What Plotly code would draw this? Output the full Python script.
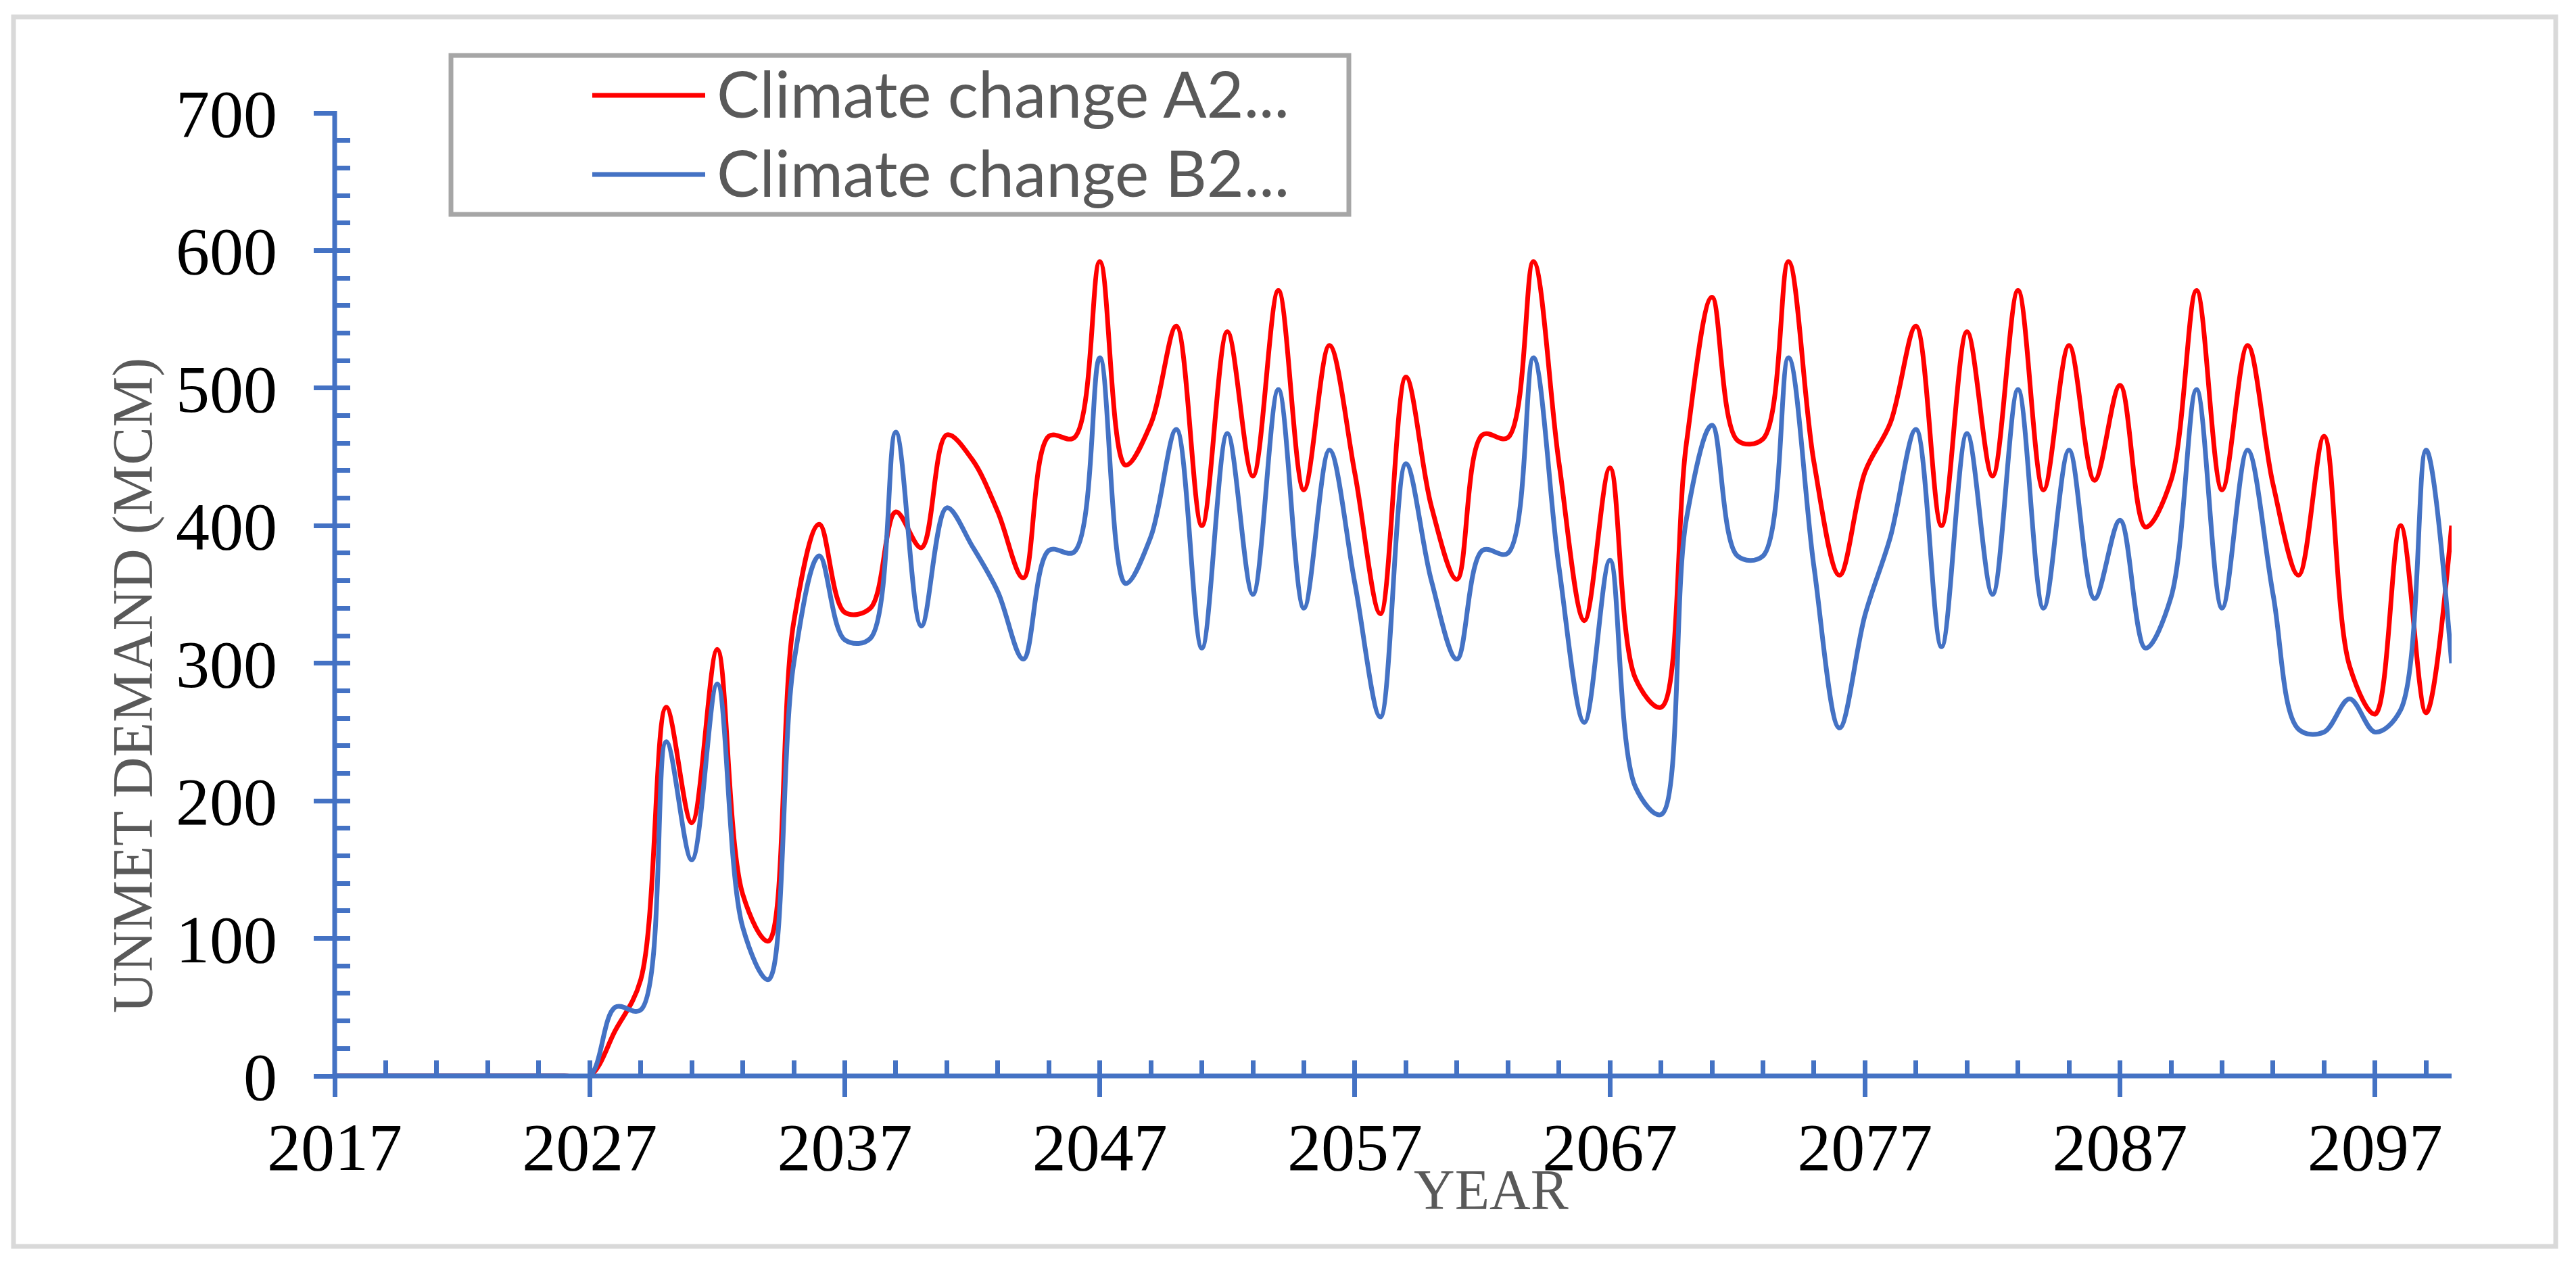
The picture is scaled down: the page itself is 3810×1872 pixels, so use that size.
import plotly.graph_objects as go

# ---------------- data ----------------
years = list(range(2017, 2101))

a2_name = "Climate change A2..."
b2_name = "Climate change B2..."

a2_unmet = [
    0, 0, 0, 0, 0, 0, 0, 0, 0, 0,                      # 2017-2026
    0, 33, 70, 268, 184, 310, 132, 98, 330, 401,        # 2027-2036
    337, 340, 410, 384, 466, 448, 410, 362, 465, 464,   # 2037-2046
    592, 444, 474, 545, 400, 541, 436, 571, 426, 531,   # 2047-2056
    438, 336, 508, 414, 361, 466, 464, 592, 446, 331,   # 2057-2066
    442, 289, 268, 460, 566, 462, 463, 592, 446, 364,   # 2067-2076
    439, 475, 545, 400, 541, 436, 571, 426, 531, 433,   # 2077-2086
    502, 399, 433, 571, 426, 531, 430, 364, 465, 298,   # 2087-2096
    263, 400, 264, 400,                                 # 2097-2100
]

b2_unmet = [
    0, 0, 0, 0, 0, 0, 0, 0, 0, 0,                      # 2017-2026
    0, 50, 48, 243, 157, 285, 108, 70, 300, 378,        # 2027-2036
    317, 318, 468, 327, 413, 385, 352, 303, 382, 381,   # 2037-2046
    522, 358, 392, 470, 311, 467, 350, 499, 340, 455,   # 2047-2056
    358, 261, 445, 360, 303, 382, 380, 522, 370, 257,   # 2057-2066
    375, 210, 190, 405, 473, 378, 378, 522, 370, 253,   # 2067-2076
    335, 392, 470, 312, 467, 350, 499, 340, 455, 347,   # 2077-2086
    404, 311, 348, 499, 340, 455, 350, 252, 250, 274,   # 2087-2096
    250, 266, 455, 300,                                 # 2097-2100
]

x_tick_years = [2017, 2027, 2037, 2047, 2057, 2067, 2077, 2087, 2097]
x_tick_labels = ["2017", "2027", "2037", "2047", "2057", "2067", "2077", "2087", "2097"]
y_tick_values = [0, 100, 200, 300, 400, 500, 600, 700]
y_tick_labels = ["0", "100", "200", "300", "400", "500", "600", "700"]

y_title = "UNMET DEMAND (MCM)"
x_title = "YEAR"

# ---------------- styling / layout ----------------
W, H = 3810, 1872
L, R, T, B = 495, 184, 167, 281
PW, PH = W - L - R, H - T - B

RED = "#FF0000"
BLUE = "#4472C4"
AXIS = "#4472C4"
SERIF = "Liberation Serif"
SANS = "Lato"


def px_x(p):
    return (p - L) / PW


def px_y(p):
    return (H - B - p) / PH


fig = go.Figure()
fig.add_trace(go.Scatter(
    x=years, y=a2_unmet, name=a2_name, mode="lines",
    line=dict(color=RED, width=7, shape="spline", smoothing=1),
    showlegend=False,
))
fig.add_trace(go.Scatter(
    x=years, y=b2_unmet, name=b2_name, mode="lines",
    line=dict(color=BLUE, width=7, shape="spline", smoothing=1),
    xaxis="x2", yaxis="y2", showlegend=False,
))

tickfont = dict(family=SERIF, size=100, color="black")

fig.update_layout(
    width=W, height=H,
    margin=dict(l=L, r=R, t=T, b=B),
    paper_bgcolor="white", plot_bgcolor="white",
    xaxis=dict(
        range=[2017, 2100], showgrid=False, zeroline=False,
        showline=False,
        ticks="outside", ticklen=30, tickwidth=7, tickcolor=AXIS,
        tickmode="array", tickvals=x_tick_years, ticktext=x_tick_labels,
        tickfont=tickfont, ticklabelstandoff=-12,
    ),
    yaxis=dict(
        range=[0, 700], showgrid=False, zeroline=False,
        showline=False,
        ticks="outside", ticklen=30, tickwidth=7, tickcolor=AXIS,
        tickmode="array", tickvals=y_tick_values, ticktext=y_tick_labels,
        tickfont=tickfont, ticklabelstandoff=34,
    ),
    xaxis2=dict(
        overlaying="x", matches="x", anchor="y2", range=[2017, 2100],
        showgrid=False, zeroline=False, showline=False,
        ticks="inside", tick0=2017, dtick=2, ticklen=23, tickwidth=7,
        tickcolor=AXIS, showticklabels=False,
    ),
    yaxis2=dict(
        overlaying="y", matches="y", anchor="x2", range=[0, 700],
        showgrid=False, zeroline=False, showline=False,
        ticks="inside", tick0=0, dtick=20, ticklen=23, tickwidth=7,
        tickcolor=AXIS, showticklabels=False,
    ),
)

# axis lines, centred on the zero / first-category positions
fig.add_shape(
    type="line", xref="paper", yref="paper",
    x0=px_x(495), x1=px_x(3626), y0=px_y(1591), y1=px_y(1591),
    line=dict(color=AXIS, width=7), layer="above",
)
fig.add_shape(
    type="line", xref="paper", yref="paper",
    x0=px_x(495), x1=px_x(495), y0=px_y(1594), y1=px_y(164),
    line=dict(color=AXIS, width=7), layer="above",
)

# axis titles
fig.add_annotation(
    text=y_title, xref="paper", yref="paper",
    x=px_x(197), y=px_y(1014), textangle=-90,
    xanchor="center", yanchor="middle", showarrow=False,
    font=dict(family=SERIF, size=84, color="#595959"),
)
fig.add_annotation(
    text=x_title, xref="paper", yref="paper",
    x=px_x(2205), y=px_y(1760),
    xanchor="center", yanchor="middle", showarrow=False,
    font=dict(family=SERIF, size=84, color="#595959"),
)

# outer chart border
fig.add_shape(
    type="rect", xref="paper", yref="paper",
    x0=px_x(20), x1=px_x(3780), y0=px_y(1843), y1=px_y(25),
    line=dict(color="#D9D9D9", width=7), fillcolor="rgba(0,0,0,0)", layer="below",
)

# legend box
fig.add_shape(
    type="rect", xref="paper", yref="paper",
    x0=px_x(667), x1=px_x(1995), y0=px_y(317), y1=px_y(82),
    line=dict(color="#A6A6A6", width=7), fillcolor="white", layer="above",
)
legend_items = [(a2_name, RED, 141), (b2_name, BLUE, 258)]
for name, color, ypix in legend_items:
    fig.add_shape(
        type="line", xref="paper", yref="paper",
        x0=px_x(876), x1=px_x(1043), y0=px_y(ypix), y1=px_y(ypix),
        line=dict(color=color, width=7), layer="above",
    )
    fig.add_annotation(
        text=name, xref="paper", yref="paper",
        x=px_x(1058), y=px_y(ypix - 4),
        xanchor="left", yanchor="middle", showarrow=False,
        font=dict(family=SANS, size=95, color="#595959"),
    )

fig.write_html(
    "out.html",
    config={"displayModeBar": False},
    post_script="document.body.style.margin='0';document.body.style.overflow='hidden';",
)
